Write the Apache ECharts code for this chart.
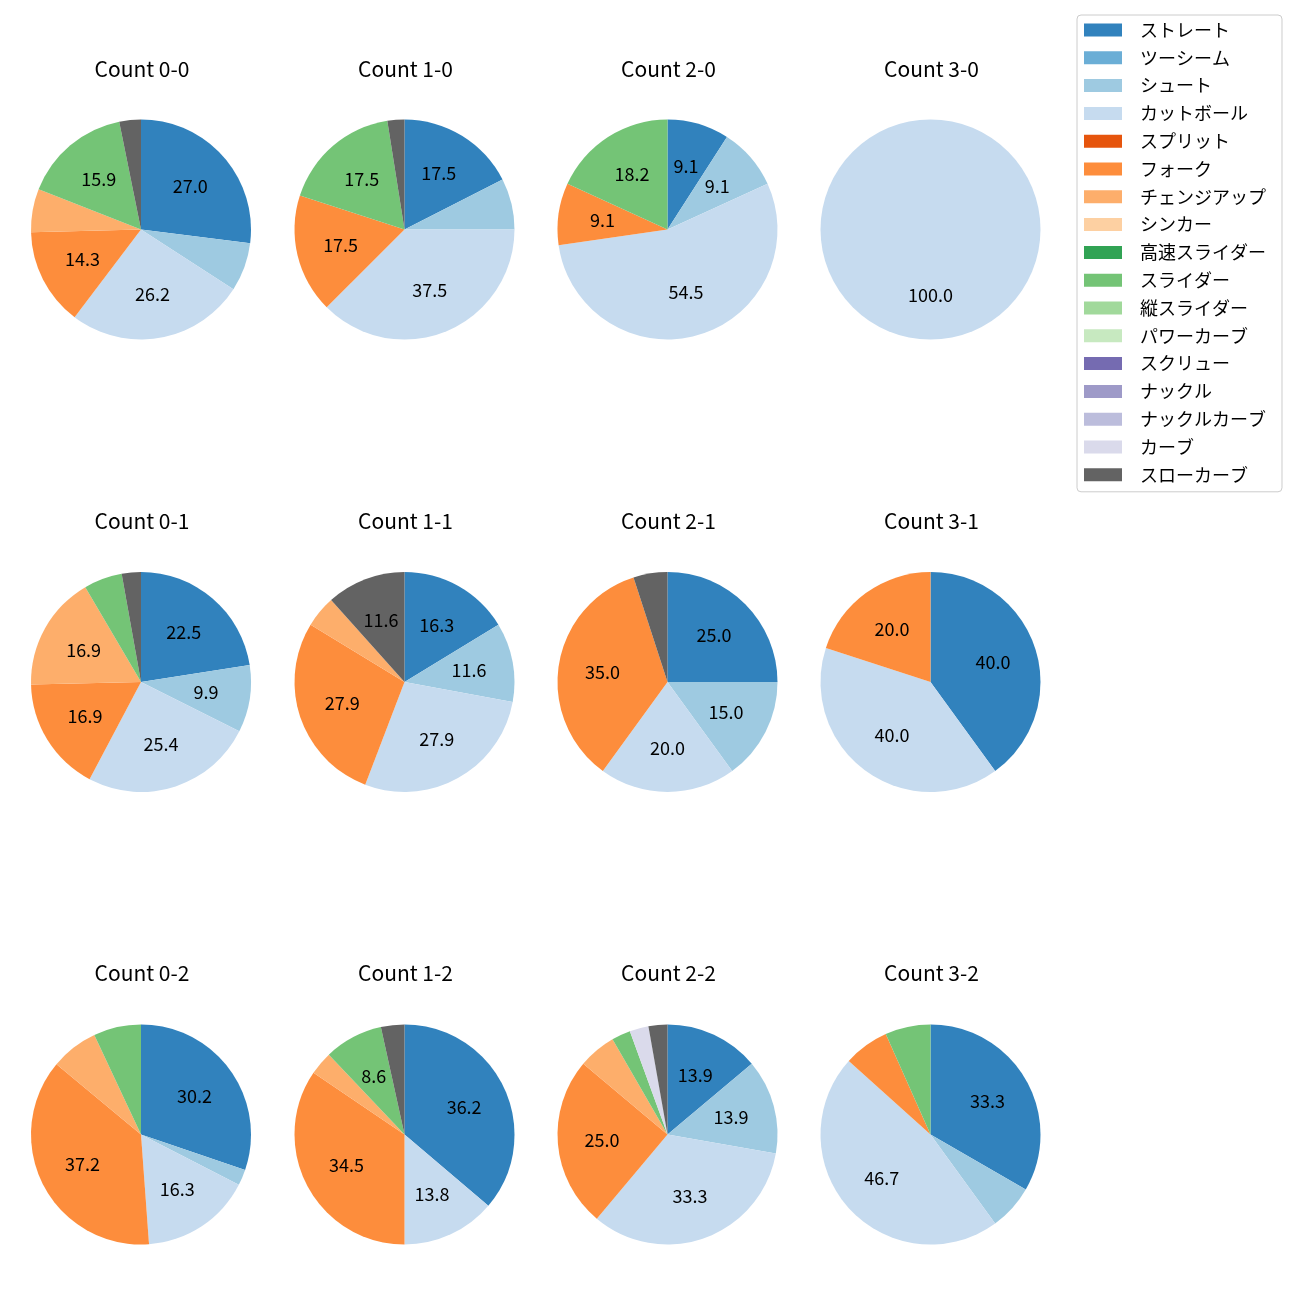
<!DOCTYPE html>
<html>
<head>
<meta charset="utf-8">
<script src="https://cdn.jsdelivr.net/npm/echarts@6/dist/echarts.min.js"></script>
<style>html,body{margin:0;padding:0;background:#fff;}#main{width:1300px;height:1300px;}</style>
</head>
<body>
<div id="main"></div>
<script>
const categories = ['ストレート','ツーシーム','シュート','カットボール','スプリット','フォーク','チェンジアップ','シンカー','高速スライダー','スライダー','縦スライダー','パワーカーブ','スクリュー','ナックル','ナックルカーブ','カーブ','スローカーブ'];
const colors = ['#3182bd','#6baed6','#9ecae1','#c6dbef','#e6550d','#fd8d3c','#fdae6b','#fdd0a2','#31a354','#74c476','#a1d99b','#c7e9c0','#756bb1','#9e9ac8','#bcbddc','#dadaeb','#636363'];

const titles = ['Count 0-0','Count 1-0','Count 2-0','Count 3-0','Count 0-1','Count 1-1','Count 2-1','Count 3-1','Count 0-2','Count 1-2','Count 2-2','Count 3-2'];
// pitch counts per category (same order as categories)
const c00 = [34,0,9,33,0,18,8,0,0,20,0,0,0,0,0,0,4];
const c10 = [7,0,3,15,0,7,0,0,0,7,0,0,0,0,0,0,1];
const c20 = [1,0,1,6,0,1,0,0,0,2,0,0,0,0,0,0,0];
const c30 = [0,0,0,1,0,0,0,0,0,0,0,0,0,0,0,0,0];
const c01 = [16,0,7,18,0,12,12,0,0,4,0,0,0,0,0,0,2];
const c11 = [7,0,5,12,0,12,2,0,0,0,0,0,0,0,0,0,5];
const c21 = [5,0,3,4,0,7,0,0,0,0,0,0,0,0,0,0,1];
const c31 = [2,0,0,2,0,1,0,0,0,0,0,0,0,0,0,0,0];
const c02 = [13,0,1,7,0,16,3,0,0,3,0,0,0,0,0,0,0];
const c12 = [21,0,0,8,0,20,2,0,0,5,0,0,0,0,0,0,2];
const c22 = [5,0,5,12,0,9,2,0,0,1,0,0,0,0,0,1,1];
const c32 = [5,0,1,7,0,1,0,0,0,1,0,0,0,0,0,0,0];
const counts = [c00,c10,c20,c30,c01,c11,c21,c31,c02,c12,c22,c32];

const FONT = "'Noto Sans CJK JP', 'Noto Sans', sans-serif";
const colX = [141, 404.5, 667.5, 930.5];
const rowY = [229.5, 682, 1134.5];
const titleY = [69, 521, 973];
const R = 110;
const LABEL_MIN = 8;

const series = [];
const graphics = [];
counts.forEach(function (arr, i) {
  const cx = colX[i % 4], cy = rowY[Math.floor(i / 4)];
  const total = arr.reduce((a, b) => a + b, 0);
  const dataMain = categories.map((n, k) => ({ name: n, value: arr[k], itemStyle: { color: colors[k] } }));
  series.push({
    type: 'pie', center: [cx, cy], radius: [0, R], startAngle: 90, clockwise: true,
    silent: true, animation: false, minAngle: 0,
    itemStyle: { borderWidth: 0 },
    label: { show: false }, labelLine: { show: false },
    emphasis: { disabled: true },
    data: dataMain
  });
  // label overlay: transparent pie so 'inside' labels sit near 0.6R
  const dataLab = categories.map((n, k) => ({ name: n, value: arr[k], itemStyle: { color: 'rgba(0,0,0,0)' } }));
  series.push({
    type: 'pie', center: [cx, cy], radius: [0, R * 1.14], startAngle: 90, clockwise: true,
    silent: true, animation: false, minAngle: 0,
    itemStyle: { borderWidth: 0, color: 'rgba(0,0,0,0)' },
    labelLine: { show: false },
    emphasis: { disabled: true },
    label: {
      show: true, position: 'inside', color: '#000', fontSize: 18, fontFamily: FONT,
      padding: [0, 0, 3, 0],
      formatter: function (p) {
        const pct = p.value / total * 100;
        return pct >= LABEL_MIN ? pct.toFixed(1) : '';
      }
    },
    data: dataLab
  });
  graphics.push({
    type: 'text', x: colX[i % 4] + 1, y: titleY[Math.floor(i / 4)],
    style: { text: titles[i], fill: '#000', font: '21px ' + FONT, align: 'center', verticalAlign: 'middle' }
  });
});

const chart = echarts.init(document.getElementById('main'), null, { renderer: 'canvas' });
chart.setOption({
  backgroundColor: '#fff',
  animation: false,
  legend: {
    orient: 'vertical', left: 1077, top: 15,
    padding: [6, 16, 8, 7],
    itemWidth: 38, itemHeight: 13, itemGap: 9.8,
    borderColor: '#cccccc', borderWidth: 1, borderRadius: 4,
    backgroundColor: '#fff',
    selectedMode: false,
    icon: 'rect',
    textStyle: { fontSize: 18, fontFamily: FONT, color: '#000', lineHeight: 18, padding: [0, 0, 0, 13] },
    data: categories.map((n, k) => ({ name: n, itemStyle: { color: colors[k] } }))
  },
  graphic: graphics,
  series: series
});
</script>
</body>
</html>
